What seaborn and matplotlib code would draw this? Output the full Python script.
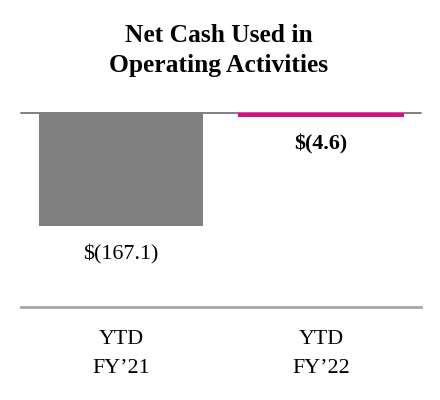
import matplotlib
matplotlib.use("Agg")
import matplotlib.pyplot as plt
import seaborn as sns

# Data
periods = ["YTD\nFY\u201921", "YTD\nFY\u201922"]
net_cash_used = [-167.1, -4.6]
value_labels = ["$(167.1)", "$(4.6)"]
label_weights = ["normal", "bold"]
bar_colors = ["#808080", "#EC008C"]

sns.set_style("white")
plt.rcParams["font.family"] = ["Liberation Serif", "DejaVu Serif"]
plt.rcParams["text.color"] = "black"
plt.rcParams["xtick.color"] = "black"
plt.rcParams["xtick.labelcolor"] = "black"

fig = plt.figure(figsize=(4.4, 4.0), dpi=100)
ax = fig.add_axes([0.0477, 0.2318, 0.909, 0.4857])

sns.barplot(x=periods, y=net_cash_used, hue=periods, palette=bar_colors,
            width=0.82, saturation=1, legend=False, ax=ax, zorder=3)

# thin accent bar gets an outline so it stays visible
for patch, col in zip(ax.patches, bar_colors):
    patch.set_edgecolor(col)
    patch.set_linewidth(0)
ax.patches[1].set_linewidth(1.4)

ax.set_xlim(-0.5, 1.5)
ax.set_ylim(-288, 0)

# zero baseline
ax.axhline(0, color="#808080", lw=1.4, zorder=1, clip_on=False)

for s in ["top", "left", "right"]:
    ax.spines[s].set_visible(False)
ax.spines["bottom"].set_color("#A6A6A6")
ax.spines["bottom"].set_linewidth(2)

ax.set_yticks([])
ax.set_ylabel("")
ax.set_xlabel("")
ax.tick_params(axis="x", length=0, pad=16, labelsize=15.8, labelcolor="black")
for t in ax.get_xticklabels():
    t.set_linespacing(1.72)

for i, (v, lab, w) in enumerate(zip(net_cash_used, value_labels, label_weights)):
    ax.annotate(lab, xy=(i, v), xytext=(0, -24), textcoords="offset points",
                ha="center", va="baseline", fontsize=15.8, fontweight=w,
                color="black")

fig.text(0.4977, 0.8958, "Net Cash Used in", ha="center", va="baseline",
         fontsize=18.4, fontweight="bold", color="black")
fig.text(0.4977, 0.8208, "Operating Activities", ha="center", va="baseline",
         fontsize=18.4, fontweight="bold", color="black")

fig.savefig("out.png", dpi=100)
